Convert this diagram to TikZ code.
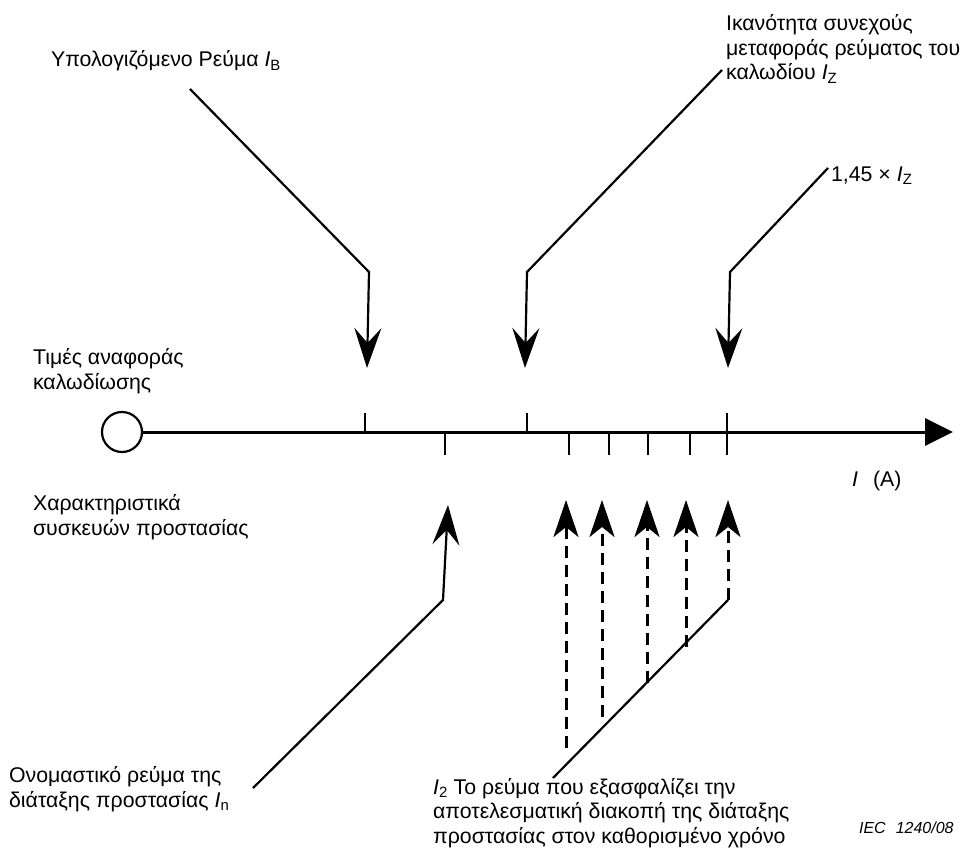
\documentclass[tikz,border=0pt]{standalone}
\usepackage{fontspec}
\setmainfont{Liberation Sans}
\usetikzlibrary{arrows.meta}
\newcommand{\Isub}[1]{\textit{I}\textsubscript{#1}}

\begin{document}
\begin{tikzpicture}[x=1pt,y=-1pt,line width=2.2pt,font=\fontsize{21.3}{24.5}\selectfont,
  bigtip/.style={-{Stealth[length=40pt,width=27pt,inset=15pt]}},
  dashtip/.style={-{Stealth[length=37pt,width=25pt,inset=10pt]},dash pattern=on 12pt off 7pt,line width=3pt},
  tick/.style={line width=2.7pt},
  lbl/.style={inner sep=0pt,align=left,anchor=base west}]
\useasboundingbox (0,0) rectangle (961,848);
% current axis
\node[draw,circle,minimum size=40pt,inner sep=0pt] (zero) at (122,432) {};
\coordinate (axisend) at (953,432);
\draw[line width=3pt,-{Triangle[length=28pt,width=27pt]}] (zero.east) -- (axisend);
\foreach \x in {365,527} \draw[tick] (\x,413) -- (\x,432);
\foreach \x in {445,569,609,648,690} \draw[tick] (\x,432) -- (\x,455);
\draw[tick] (727,413) -- (727,455);
% labels (base = last line)
\node[lbl] (ib) at (50,67) {Υπολογιζόμενο Ρεύμα \Isub{B}};
\node[lbl] (iz) at (725,80) {Ικανότητα συνεχούς\\μεταφοράς ρεύματος του\\καλωδίου \Isub{Z}};
\node[lbl] (iz145) at (830,181) {1,45 × \Isub{Z}};
\node[lbl] (ref) at (32,389) {Τιμές αναφοράς\\καλωδίωσης};
\node[lbl] (prot) at (32,535) {Χαρακτηριστικά\\συσκευών προστασίας};
\node[lbl] (unit) at (851,486) {\textit{I}\hspace{15pt}(A)};
\node[lbl] (in) at (8,807) {Ονομαστικό ρεύμα της\\διάταξης προστασίας \Isub{n}};
\node[lbl] (i2) at (432,843) {\Isub{2} Το ρεύμα που εξασφαλίζει την\\αποτελεσματική διακοπή της διάταξης\\προστασίας στον καθορισμένο χρόνο};
\node[lbl,font=\fontsize{16}{18}\selectfont\itshape] (iec) at (858,833) {IEC\hspace{10pt}1240/08};
% leaders from above
\coordinate (b1) at (190,89);  \coordinate (b2) at (369,272); \coordinate (b3) at (367,368);
\coordinate (z1) at (722,70);  \coordinate (z2) at (527,272); \coordinate (z3) at (525,368);
\coordinate (f1) at (828,168); \coordinate (f2) at (730,272); \coordinate (f3) at (728,368);
\draw[bigtip] (b1) -- (b2) -- (b3);
\draw[bigtip] (z1) -- (z2) -- (z3);
\draw[bigtip] (f1) -- (f2) -- (f3);
% leaders from below
\coordinate (n1) at (253,788); \coordinate (n2) at (443,600); \coordinate (n3) at (448,505);
\draw[bigtip] (n1) -- (n2) -- (n3);
\coordinate (c1) at (553,778); \coordinate (c2) at (728,600);
\draw (c1) -- (c2);
\foreach \x/\y in {566/748,602/717,647/683,686/647,728/600}
  \draw[dashtip] (\x,\y) -- (\x,500);
\end{tikzpicture}
\end{document}
